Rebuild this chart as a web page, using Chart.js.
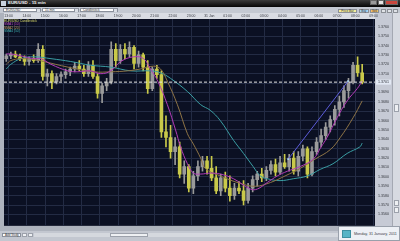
<!DOCTYPE html>
<html lang="en">
<head>
<meta charset="UTF-8">
<title>EUR/USD - 15 min</title>
<script src="https://cdn.jsdelivr.net/npm/chart.js@4.4.1/dist/chart.umd.min.js"></script>
<style>
  body { margin: 0; width: 400px; height: 241px; overflow: hidden; position: relative;
         background: #b9bdc7; font-family: "Liberation Sans", Arial, sans-serif; }
  .abs { position: absolute; }
  /* window title */
  .titlebar { left: 0; top: 0; width: 400px; height: 7px; background: linear-gradient(#3c3c3c, #050505); }
  .titlebar .icon { left: 1px; top: 1px; width: 5px; height: 5px; background: #c9d3df; }
  .titlebar .name { left: 8px; top: 0; font-size: 4.4px; line-height: 6.5px; color: #f2f2f2; font-weight: bold; white-space: nowrap; }
  .wbtn { top: 0; height: 5px; border: 0.5px solid #666; box-sizing: border-box; }
  /* toolbar */
  .toolbar { left: 0; top: 7px; width: 400px; height: 6px; background: #c4c9d2; }
  .dd { top: 8px; height: 4.4px; background: #fff; border: 0.5px solid #8a909b; box-sizing: border-box;
        font-size: 3.2px; line-height: 3.6px; padding-left: 2px; color: #333; white-space: nowrap; }
  .dd span { position: absolute; right: 0; top: 0; width: 3.5px; height: 3.4px; background: #d9dde4; border-left: 0.5px solid #8a909b; }
  .btn { top: 8.5px; height: 4.2px; box-sizing: border-box; border: 0.5px solid #8b8f96; font-size: 3px;
         line-height: 3.4px; text-align: center; color: #333; white-space: nowrap; }
  /* chart */
  #chart { position: absolute; left: 0; top: 13px; }
  .legend { left: 4px; font-size: 3.3px; line-height: 3.4px; white-space: nowrap; }
  /* right scroll column */
  .vscroll { left: 392px; top: 13px; width: 8px; height: 218px; background: #d7dae1; border-left: 0.5px solid #a4a8b2; box-sizing: border-box; }
  .thumb { background: #eef0f3; border: 0.5px solid #9ca1ab; box-sizing: border-box; }
  /* bottom bar */
  .bottombar { left: 0; top: 231px; width: 400px; height: 10px; background: #c3c7d0; }
  .tip { left: 338px; top: 226px; width: 62px; height: 15px; background: #edf0f5; border: 0.5px solid #99a0ab; box-sizing: border-box; }
  .tip .ico { left: 3px; top: 3px; width: 9px; height: 8px; background: #56b4c6; border: 0.5px solid #3c8fa0; box-sizing: border-box; }
  .tip .txt { left: 15px; top: 4.5px; font-size: 3.7px; line-height: 4px; color: #3a3d44; white-space: nowrap; }
</style>
</head>
<body>

<!-- window chrome -->
<div class="abs titlebar">
  <div class="abs icon"></div>
  <div class="abs name">EUR/USD - 15 min</div>
  <div class="abs wbtn" style="left:370px;width:7px;background:#9a9a9a;"></div>
  <div class="abs wbtn" style="left:378px;width:6px;background:#e4e4e4;"></div>
  <div class="abs wbtn" style="left:385px;width:13px;background:#c9463d;"></div>
</div>

<div class="abs toolbar"></div>
<div class="abs dd" style="left:3px;width:38px;">EUR/USD<span></span></div>
<div class="abs dd" style="left:42px;width:37px;">15 min<span></span></div>
<div class="abs dd" style="left:80px;width:38px;">Candlestick<span></span></div>
<div class="abs btn" style="left:338px;width:19px;background:#f4ee9e;">Price Bar</div>
<div class="abs btn" style="left:359px;width:9.5px;background:#a8d6f5;">Buy</div>
<div class="abs btn" style="left:370px;width:9px;background:#f5c16b;">Sell</div>
<div class="abs btn" style="left:381px;width:5px;background:#dfe2e7;"></div>
<div class="abs btn" style="left:387px;width:5px;background:#dfe2e7;"></div>
<div class="abs btn" style="left:393px;width:5px;background:#dfe2e7;"></div>

<canvas id="chart" width="392" height="218"></canvas>

<div class="abs legend" style="top:19.5px;color:#d9d96a;">EUR/USD Candlestick</div>
<div class="abs legend" style="top:23px;color:#c14ac4;">SMA1 (10)</div>
<div class="abs legend" style="top:26.5px;color:#c29a5c;">SMA2 (20)</div>
<div class="abs legend" style="top:30px;color:#3fb3b3;">SMA4 (50)</div>

<div class="abs vscroll">
  <div class="abs thumb" style="left:1px;top:91px;width:5px;height:8px;"></div>
  <div class="abs thumb" style="left:0.5px;top:187px;width:5px;height:5.5px;"></div>
  <div class="abs thumb" style="left:0.5px;top:194px;width:5px;height:5.5px;"></div>
</div>

<div class="abs bottombar">
  <div class="abs dd" style="left:2px;top:2px;width:19px;font-size:3px;">Add Study</div>
  <div class="abs thumb" style="left:22px;top:2px;width:5px;height:4.4px;"></div>
  <div class="abs thumb" style="left:28px;top:2px;width:5px;height:4.4px;"></div>
  <div class="abs" style="left:34px;top:2px;width:304px;height:4.4px;background:#d5d8de;"></div>
  <div class="abs thumb" style="left:110px;top:2px;width:38px;height:4.4px;"></div>
</div>

<div class="abs tip">
  <div class="abs ico"></div>
  <div class="abs txt">Monday, 31 January, 2011</div>
</div>

<script>
// EUR/USD 15 min candles
const opens  = [1.3726,1.3729,1.3731,1.3728,1.3726,1.3723,1.3726,1.3724,1.3736,1.3707,
                1.3710,1.3701,1.3707,1.3709,1.3712,1.3715,1.3718,1.3715,1.3710,1.3719,
                1.3707,1.3689,1.3697,1.3701,1.3736,1.3724,1.3736,1.3731,1.3738,1.3721,
                1.3730,1.3717,1.3694,1.3715,1.3709,1.3648,1.3642,1.3627,1.3632,1.3603,
                1.3611,1.3588,1.3601,1.3611,1.3617,1.3609,1.3599,1.3585,1.3599,1.3588,
                1.3580,1.3588,1.3585,1.3575,1.3588,1.3597,1.3603,1.3599,1.3607,1.3613,
                1.3605,1.3615,1.3611,1.3620,1.3606,1.3622,1.3630,1.3603,1.3627,1.3637,
                1.3644,1.3653,1.3661,1.3672,1.3680,1.3692,1.3701,1.3719,1.3711];
const highs  = [1.3731,1.3733,1.3734,1.3731,1.3729,1.3728,1.3730,1.3742,1.3740,1.3715,
                1.3713,1.3710,1.3712,1.3715,1.3717,1.3722,1.3724,1.3719,1.3723,1.3724,
                1.3710,1.3700,1.3705,1.3744,1.3742,1.3741,1.3742,1.3744,1.3740,1.3734,
                1.3732,1.3724,1.3717,1.3719,1.3713,1.3665,1.3655,1.3642,1.3637,1.3617,
                1.3613,1.3606,1.3617,1.3622,1.3622,1.3622,1.3611,1.3603,1.3605,1.3601,
                1.3593,1.3595,1.3596,1.3593,1.3601,1.3606,1.3609,1.3611,1.3617,1.3619,
                1.3622,1.3624,1.3624,1.3627,1.3627,1.3634,1.3632,1.3632,1.3642,1.3651,
                1.3658,1.3665,1.3676,1.3686,1.3697,1.3705,1.3722,1.3728,1.3720];
const lows   = [1.3723,1.3726,1.3727,1.3724,1.3719,1.3719,1.3722,1.3722,1.3703,1.3697,
                1.3694,1.3699,1.3702,1.3705,1.3708,1.3712,1.3713,1.3707,1.3707,1.3705,
                1.3684,1.3679,1.3692,1.3699,1.3717,1.3721,1.3726,1.3728,1.3715,1.3717,
                1.3713,1.3689,1.3692,1.3705,1.3642,1.3632,1.3620,1.3613,1.3599,1.3593,
                1.3584,1.3582,1.3596,1.3606,1.3603,1.3596,1.3582,1.3580,1.3584,1.3574,
                1.3576,1.3582,1.3570,1.3572,1.3584,1.3590,1.3595,1.3596,1.3603,1.3601,
                1.3603,1.3609,1.3606,1.3603,1.3601,1.3617,1.3599,1.3601,1.3624,1.3632,
                1.3640,1.3648,1.3655,1.3665,1.3674,1.3684,1.3699,1.3707,1.3699];
const closes = [1.3729,1.3731,1.3728,1.3726,1.3723,1.3726,1.3724,1.3736,1.3707,1.3710,
                1.3701,1.3707,1.3709,1.3712,1.3715,1.3718,1.3715,1.3710,1.3719,1.3707,
                1.3689,1.3697,1.3701,1.3736,1.3724,1.3736,1.3731,1.3738,1.3721,1.3730,
                1.3717,1.3694,1.3715,1.3709,1.3648,1.3642,1.3627,1.3632,1.3603,1.3611,
                1.3588,1.3601,1.3611,1.3617,1.3609,1.3599,1.3585,1.3599,1.3588,1.3580,
                1.3588,1.3585,1.3575,1.3588,1.3597,1.3603,1.3599,1.3607,1.3613,1.3605,
                1.3615,1.3611,1.3620,1.3606,1.3622,1.3630,1.3603,1.3627,1.3637,1.3644,
                1.3653,1.3661,1.3672,1.3680,1.3692,1.3701,1.3719,1.3711,1.3701];

// moving averages, [candle index, price]
const sma1 = [[0,1.3731],[1,1.3731],[3.2,1.3729],[6.1,1.3726],[7.6,1.3726],[9.8,1.3720],[13.5,1.3713],
  [15.7,1.3712],[18.5,1.3713],[20.7,1.3710],[22.9,1.3713],[25.1,1.3723],[27.9,1.3728],[30.1,1.3726],
  [31.6,1.3715],[33.2,1.3702],[35.3,1.3677],[37.1,1.3650],[38.2,1.3632],[39.7,1.3614],[41,1.3604],
  [42.6,1.3603],[44.7,1.3604],[46.9,1.3603],[49.8,1.3598],[53.5,1.3587],[55,1.3587],[57.2,1.3594],
  [59.4,1.3601],[61.6,1.3606],[64.4,1.3611],[67.3,1.3619],[69,1.3632],[70.3,1.3642],[72.5,1.3663],
  [74.7,1.3681],[76.9,1.3694],[78,1.3702]];
const sma2 = [[0,1.3720],[1,1.3724],[3.2,1.3726],[6.1,1.3725],[8.2,1.3723],[13.5,1.3717],[19.2,1.3712],
  [22.9,1.3712],[26.6,1.3713],[29.4,1.3715],[32.3,1.3718],[33.8,1.3715],[35.3,1.3702],[37.5,1.3677],
  [39.7,1.3646],[41,1.3635],[42.6,1.3620],[43.6,1.3609],[46.9,1.3601],[51.3,1.3593],[54.6,1.3590],
  [57.9,1.3594],[61.1,1.3601],[64.4,1.3609],[67.7,1.3619],[71,1.3629],[73.2,1.3642],[76,1.3663],[78,1.3681]];
const sma4 = [[0,1.3715],[1,1.3720],[3.2,1.3726],[6.1,1.3728],[9.8,1.3726],[14.1,1.3723],[18.5,1.3719],
  [22.9,1.3717],[27.3,1.3713],[31.6,1.3713],[33.8,1.3711],[36,1.3705],[39.7,1.3691],[42.6,1.3677],
  [44.7,1.3671],[46.9,1.3660],[49.8,1.3639],[52,1.3625],[54.1,1.3611],[55.7,1.3601],[57.2,1.3598],
  [60,1.3596],[62.9,1.3598],[66,1.3601],[68.8,1.3608],[71.6,1.3614],[74.7,1.3625],[77.5,1.3632],[78,1.3636]];
const trendLine = [[61.8,1.3619],[74.9,1.3702]];
const currentPrice = 1.3701;

// hour labels along the top strip
const timeLabels = ['13:00','14:00','15:00','16:00','17:00','18:00','19:00','20:00','21:00','22:00',
                    '23:00','31 Jan','01:00','02:00','03:00','04:00','05:00','06:00','07:00','08:00','09:00'];

const priceMin = 1.35478, priceMax = 1.37683, priceStep = 0.001;
const xMin = -0.5, xMax = 80.81, candlesPerHour = 4;

const upColor = '#9a9a9a', downColor = '#c9c94a';
const candleColors = opens.map((o, i) => closes[i] >= o ? upColor : downColor);
const pts = arr => arr.map(p => ({ x: p[0], y: p[1] }));

const panelBg = {
  id: 'panelBg',
  beforeDraw(chart) {
    const { ctx, chartArea: a, width, height } = chart;
    ctx.save();
    ctx.fillStyle = '#aeb3bd'; ctx.fillRect(0, 0, width, height);
    ctx.fillStyle = '#d9dce3'; ctx.fillRect(a.left, 0, a.right - a.left, a.top);
    ctx.fillStyle = '#c6cad5'; ctx.fillRect(a.right, 0, width - a.right, height);
    ctx.fillStyle = '#0b1023'; ctx.fillRect(a.left, a.top, a.right - a.left, a.bottom - a.top);
    ctx.restore();
  },
  afterDraw(chart) {
    const { ctx, chartArea: a } = chart;
    const y = chart.scales.y.getPixelForValue(currentPrice);
    ctx.save();
    ctx.fillStyle = '#e3e9f4';
    ctx.fillRect(a.right + 1, y - 2.5, 15, 5);
    ctx.fillStyle = '#2a2d35';
    ctx.font = '3.6px "Liberation Sans", Arial, sans-serif';
    ctx.textBaseline = 'middle';
    ctx.fillText(currentPrice.toFixed(4), a.right + 3, y);
    ctx.restore();
  }
};

new Chart(document.getElementById('chart'), {
  type: 'bar',
  data: {
    datasets: [
      { type: 'line', data: pts(trendLine), borderColor: '#5b5bd8', borderWidth: 1,
        pointRadius: 1.2, pointStyle: 'rect', pointBackgroundColor: '#a9d4f0', pointBorderWidth: 0, order: 0 },
      { type: 'line', data: [{ x: xMin, y: currentPrice }, { x: xMax, y: currentPrice }],
        borderColor: '#e6e6e6', borderWidth: 1, borderDash: [3, 2], pointRadius: 0, order: 0 },
      { type: 'line', data: pts(sma1), borderColor: '#b23ab6', borderWidth: 1, pointRadius: 0, tension: 0.4, order: 1 },
      { type: 'line', data: pts(sma2), borderColor: '#8e7446', borderWidth: 1, pointRadius: 0, tension: 0.4, order: 1 },
      { type: 'line', data: pts(sma4), borderColor: '#3a9ea4', borderWidth: 1, pointRadius: 0, tension: 0.4, order: 1 },
      { data: opens.map((o, i) => ({ x: i, y: [lows[i], highs[i]] })), backgroundColor: candleColors,
        barThickness: 1, grouped: false, order: 3 },
      { data: opens.map((o, i) => ({ x: i, y: [o, closes[i]] })), backgroundColor: candleColors,
        barThickness: 3, grouped: false, order: 2 }
    ]
  },
  options: {
    responsive: false,
    animation: false,
    layout: { padding: { left: 3 } },
    plugins: { legend: { display: false }, tooltip: { enabled: false } },
    scales: {
      x: {
        type: 'linear', position: 'top', min: xMin, max: xMax, offset: false,
        grid: { color: '#232b44', offset: false, drawTicks: false },
        border: { display: false },
        afterBuildTicks: s => { s.ticks = timeLabels.map((_, k) => ({ value: 0.5 + k * candlesPerHour })); },
        afterFit: s => { s.height = 6; },
        ticks: { autoSkip: false, maxRotation: 0, padding: 1, color: '#33363d',
                 font: { size: 3.4, family: '"Liberation Sans", Arial, sans-serif' },
                 callback: (v, i) => timeLabels[i] }
      },
      y: {
        position: 'right', min: priceMin, max: priceMax,
        grid: { color: '#232b44', drawTicks: false },
        border: { display: false },
        afterBuildTicks: s => {
          s.ticks = s.ticks.filter(t => Math.abs(t.value / priceStep - Math.round(t.value / priceStep)) < 1e-6);
        },
        afterFit: s => { s.width = 17; },
        ticks: { stepSize: priceStep, padding: 3, crossAlign: 'near', color: '#33363d',
                 font: { size: 3.6, family: '"Liberation Sans", Arial, sans-serif' },
                 callback: v => Math.abs(v - currentPrice) < 0.0004 ? '' : v.toFixed(4) }
      }
    }
  },
  plugins: [panelBg]
});
</script>
</body>
</html>
